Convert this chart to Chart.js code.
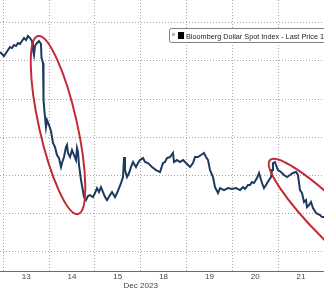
<!DOCTYPE html>
<html>
<head>
<meta charset="utf-8">
<script src="https://cdn.jsdelivr.net/npm/chart.js@4.4.1/dist/chart.umd.min.js"></script>
<style>
  html, body { margin: 0; padding: 0; background: #fff; }
  #wrap { width: 324px; height: 288px; }
</style>
</head>
<body>
<div id="wrap"><canvas id="usd" width="324" height="288"></canvas></div>
<script>
// trading days on the axis, Dec 2023
const dayLabels = ['13', '14', '15', '18', '19', '20', '21'];
const monthLabel = 'Dec 2023';
const seriesName = 'Bloomberg Dollar Spot Index - Last Price';
const lastPrice = '1244.54';

// position in trading days counted from the start of Dec 13
const dayPos = [
  -0.072, -0.028, 0.015, 0.059, 0.103, 0.146, 0.190, 0.234, 0.277, 0.321,
  0.365, 0.408, 0.452, 0.496, 0.539, 0.583, 0.627, 0.648, 0.670, 0.692,
  0.736, 0.779, 0.823, 0.834, 0.867, 0.878, 0.900, 0.932, 0.954, 0.998,
  1.041, 1.085, 1.129, 1.172, 1.216, 1.260, 1.282, 1.325, 1.369, 1.391,
  1.413, 1.456, 1.500, 1.544, 1.587, 1.609, 1.631, 1.653, 1.697, 1.740,
  1.762, 1.806, 1.849, 1.893, 1.958, 2.002, 2.046, 2.090, 2.133, 2.177,
  2.221, 2.264, 2.330, 2.374, 2.439, 2.483, 2.527, 2.570, 2.614, 2.636,
  2.657, 2.701, 2.745, 2.788, 2.832, 2.897, 2.941, 2.985, 3.050, 3.094,
  3.159, 3.247, 3.334, 3.421, 3.487, 3.530, 3.574, 3.640, 3.705, 3.727,
  3.793, 3.858, 3.924, 3.990, 4.077, 4.142, 4.186, 4.251, 4.317, 4.382,
  4.426, 4.470, 4.513, 4.579, 4.622, 4.688, 4.732, 4.819, 4.906, 4.994,
  5.081, 5.168, 5.234, 5.278, 5.343, 5.387, 5.430, 5.474, 5.539, 5.583,
  5.648, 5.692, 5.736, 5.801, 5.845, 5.867, 5.888, 5.932, 5.954, 5.998,
  6.063, 6.129, 6.194, 6.260, 6.325, 6.391, 6.434, 6.478, 6.522, 6.565,
  6.609, 6.631, 6.675, 6.718, 6.762, 6.828, 6.915, 6.959, 7.002
];

const price = [
  1266.16, 1265.90, 1265.63, 1266.03, 1266.42, 1266.81, 1266.68, 1267.08, 1266.94, 1267.34,
  1267.21, 1267.60, 1267.99, 1267.73, 1268.25, 1267.99, 1267.60, 1266.42, 1265.77, 1266.94,
  1267.34, 1267.60, 1267.21, 1265.37, 1264.72, 1259.87, 1258.30, 1256.33, 1257.25, 1256.60,
  1255.81, 1254.24, 1253.71, 1252.67, 1252.27, 1251.09, 1251.62, 1252.40, 1253.71, 1253.98,
  1252.93, 1252.40, 1253.32, 1252.67, 1252.01, 1253.58, 1253.06, 1251.36, 1249.39, 1247.95,
  1247.16, 1246.77, 1247.29, 1247.42, 1247.16, 1247.69, 1248.34, 1247.82, 1248.47, 1247.82,
  1247.16, 1246.77, 1247.42, 1247.82, 1247.16, 1247.69, 1248.34, 1249.00, 1249.78, 1252.40,
  1250.70, 1249.78, 1250.31, 1251.09, 1251.75, 1251.09, 1251.62, 1252.01, 1252.27, 1251.75,
  1251.62, 1251.09, 1250.70, 1250.44, 1251.62, 1251.75, 1252.27, 1252.40, 1252.93, 1251.75,
  1252.01, 1251.75, 1252.01, 1251.62, 1251.09, 1251.62, 1252.40, 1252.40, 1252.67, 1252.93,
  1252.40, 1252.01, 1250.70, 1249.78, 1248.47, 1247.69, 1248.34, 1248.08, 1248.34, 1248.21,
  1248.34, 1248.08, 1248.47, 1248.21, 1248.74, 1248.74, 1249.13, 1249.00, 1249.65, 1250.31,
  1249.00, 1248.34, 1248.74, 1249.39, 1249.78, 1250.70, 1251.62, 1251.75, 1251.36, 1250.70,
  1250.44, 1250.05, 1249.78, 1250.05, 1250.31, 1250.44, 1250.05, 1248.08, 1247.69, 1246.51,
  1246.77, 1245.85, 1246.12, 1246.51, 1245.72, 1245.07, 1244.81, 1244.54, 1244.54
];

// horizontal gridlines (the price labels are cropped off the picture)
const priceGrid = [1240, 1245, 1250, 1255, 1260, 1265, 1270];

// red rings drawn over the chart: the two ends of each ring's long axis, in chart values
const rings = [
  { from: [0.758, 1268.25], to: [1.631, 1244.94] },
  { from: [5.823, 1252.01], to: [8.662, 1234.98] }
];

const tickFont = { family: '"Liberation Sans Narrow", "Liberation Sans", sans-serif', size: 8, lineHeight: 1.125 };

// day boundaries get a gridline, day middles get the label
const xTicks = [];
dayLabels.forEach((d, i) => {
  xTicks.push({ value: i });
  xTicks.push({ value: i + 0.5 });
});

const marks = {
  id: 'marks',
  afterDatasetsDraw(chart) {
    const { ctx, scales: { x, y } } = chart;
    const ringHalf = [19, 18];
    ctx.save();
    ctx.strokeStyle = '#c22a35';
    ctx.lineWidth = 2;
    rings.forEach((r, i) => {
      const x1 = x.getPixelForValue(r.from[0]), y1 = y.getPixelForValue(r.from[1]);
      const x2 = x.getPixelForValue(r.to[0]), y2 = y.getPixelForValue(r.to[1]);
      ctx.beginPath();
      ctx.ellipse((x1 + x2) / 2, (y1 + y2) / 2, Math.hypot(x2 - x1, y2 - y1) / 2, ringHalf[i],
        Math.atan2(y2 - y1, x2 - x1), 0, Math.PI * 2);
      ctx.stroke();
    });

    // legend box, runs off the right edge like the original
    ctx.fillStyle = '#fff';
    ctx.strokeStyle = '#808080';
    ctx.lineWidth = 1;
    ctx.beginPath();
    ctx.roundRect(169.5, 28.5, 220, 14, 2);
    ctx.fill();
    ctx.stroke();
    ctx.fillStyle = '#b8b8b8';
    ctx.fillRect(172, 33, 3, 3);
    ctx.fillStyle = '#000';
    ctx.fillRect(178, 32, 6, 7);

    ctx.font = '8px "Liberation Sans Narrow", "Liberation Sans", sans-serif';
    ctx.fillStyle = '#222';
    ctx.textBaseline = 'alphabetic';
    const sx = 132 / ctx.measureText(seriesName).width;
    ctx.translate(186, 38.5);
    ctx.scale(sx, 1);
    ctx.fillText(seriesName + ' ' + lastPrice, 0, 0);
    ctx.restore();
  }
};

new Chart(document.getElementById('usd'), {
  type: 'line',
  data: {
    datasets: [{
      label: seriesName,
      data: dayPos.map((d, i) => ({ x: d, y: price[i] })),
      borderColor: '#1c3a5e',
      borderWidth: 2,
      pointRadius: 0,
      tension: 0,
      fill: false
    }]
  },
  options: {
    responsive: false,
    animation: false,
    layout: { padding: 0 },
    plugins: { legend: { display: false }, tooltip: { enabled: false } },
    scales: {
      x: {
        type: 'linear',
        min: -0.072,
        max: 7.002,
        afterBuildTicks: (s) => { s.ticks = xTicks.map(t => ({ value: t.value })); },
        afterFit: (s) => { s.height = 17; },
        ticks: {
          autoSkip: false,
          maxRotation: 0,
          padding: 1,
          color: '#444',
          font: tickFont,
          callback: (v) => {
            if (v % 1 === 0.5) return dayLabels[Math.floor(v)];
            if (v === 3) return ['', monthLabel];
            return '';
          }
        },
        grid: {
          drawTicks: false,
          color: (c) => (c.tick && c.tick.value % 1 === 0 ? '#a8a8a8' : 'rgba(0,0,0,0)')
        },
        border: { display: true, color: '#6e6e6e', width: 1, dash: [1, 2] }
      },
      y: {
        min: 1237.48,
        max: 1272.97,
        afterBuildTicks: (s) => { s.ticks = priceGrid.map(v => ({ value: v })); },
        afterFit: (s) => { s.width = 0; },
        ticks: { display: false },
        grid: { drawTicks: false, color: '#a8a8a8' },
        border: { display: false, dash: [1, 2] }
      }
    }
  },
  plugins: [marks]
});
</script>
</body>
</html>
